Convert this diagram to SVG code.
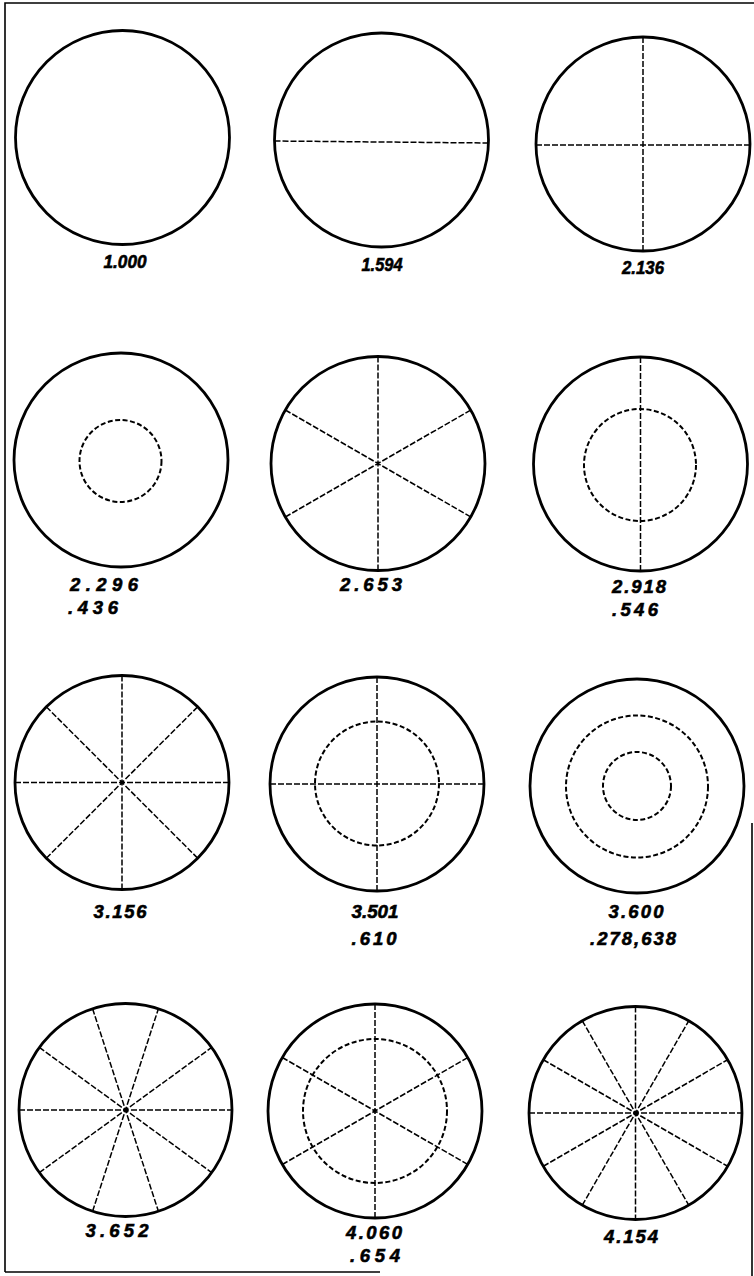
<svg xmlns="http://www.w3.org/2000/svg" width="754" height="1276" viewBox="0 0 754 1276">
<style>
.o{fill:none;stroke:#000;stroke-width:2.8}
.d{fill:none;stroke:#000;stroke-width:2;stroke-dasharray:5 2.5}
.s{fill:none;stroke:#000;stroke-width:1.5;stroke-dasharray:6 2}
.t{font-family:"Liberation Sans",Arial,sans-serif;font-weight:bold;font-style:italic;font-size:18.5px;fill:#000;stroke:#000;stroke-width:0.6;text-anchor:middle}
.f{fill:none;stroke:#000;stroke-width:1.6}
</style>
<rect width="754" height="1276" fill="#fff"/>
<g id="frame">
<path class="f" d="M5,1272 V3 H754"/>
<path class="f" d="M5,1272 H380"/>
<path class="f" d="M752,823 V1276"/>
</g>
<g id="connectors"></g>
<g id="n1"><circle class="o" cx="122.5" cy="137.5" r="107"/><text class="t" x="125" y="268" textLength="43" lengthAdjust="spacingAndGlyphs">1.000</text></g>
<g id="n2"><circle class="o" cx="381.5" cy="140" r="107"/><path class="s" d="M274.5,141 L488.5,143"/><text class="t" x="382" y="271" textLength="41" lengthAdjust="spacingAndGlyphs">1.594</text></g>
<g id="n3"><circle class="o" cx="643" cy="144" r="107"/><path class="s" d="M536,145 H750 M643,37 V251"/><text class="t" x="643" y="274" textLength="42" lengthAdjust="spacingAndGlyphs">2.136</text></g>
<g id="n4"><circle class="o" cx="121" cy="460" r="107"/><circle class="d" cx="120.5" cy="461" r="41"/><text class="t" x="104" y="591" textLength="68" lengthAdjust="spacing">2.296</text><text class="t" x="93" y="614" textLength="50" lengthAdjust="spacing">.436</text></g>
<g id="n5"><circle class="o" cx="378" cy="463.5" r="107"/><path class="s" d="M378,356.5 V570.5 M285.3,410 L470.7,517 M285.3,517 L470.7,410"/><text class="t" x="371" y="591" textLength="62" lengthAdjust="spacing">2.653</text></g>
<g id="n6"><circle class="o" cx="640.5" cy="464" r="107"/><circle class="d" cx="640" cy="465" r="56"/><path class="s" d="M640.5,357 V571"/><text class="t" x="639" y="593" textLength="54" lengthAdjust="spacing">2.918</text><text class="t" x="635" y="616" textLength="46" lengthAdjust="spacing">.546</text></g>
<g id="n7"><circle class="o" cx="122" cy="782.5" r="107"/><path class="s" d="M15,782.5 H229 M122,675.5 V889.5 M46.3,706.8 L197.7,858.2 M46.3,858.2 L197.7,706.8"/><text class="t" x="120" y="918" textLength="53" lengthAdjust="spacing">3.156</text></g>
<g id="n8"><circle class="o" cx="377" cy="784" r="107"/><circle class="d" cx="377" cy="783.5" r="62"/><path class="s" d="M270,784 H484 M377,677 V891"/><text class="t" x="375" y="918" textLength="47" lengthAdjust="spacingAndGlyphs">3.501</text><text class="t" x="374" y="945" textLength="45" lengthAdjust="spacing">.610</text></g>
<g id="n9"><circle class="o" cx="637" cy="786" r="107"/><circle class="d" cx="637" cy="786.5" r="71"/><circle class="d" cx="637" cy="786" r="34"/><text class="t" x="636" y="918" textLength="55" lengthAdjust="spacing">3.600</text><text class="t" x="633" y="945" textLength="86" lengthAdjust="spacing">.278,638</text></g>
<g id="n10"><circle class="o" cx="125.5" cy="1110" r="106.5"/><path class="s" d="M19,1110 H232 M39.3,1172.6 L211.7,1047.4 M92.6,1211.3 L158.4,1008.7 M92.6,1008.7 L158.4,1211.3 M39.3,1047.4 L211.7,1172.6"/><text class="t" x="117" y="1237" textLength="63" lengthAdjust="spacing">3.652</text></g>
<g id="n11"><circle class="o" cx="375" cy="1111" r="107"/><circle class="d" cx="375" cy="1111" r="72"/><path class="s" d="M375,1004 V1218 M282.3,1057.5 L467.7,1164.5 M282.3,1164.5 L467.7,1057.5"/><text class="t" x="374" y="1239" textLength="56" lengthAdjust="spacing">4.060</text><text class="t" x="375" y="1262" textLength="50" lengthAdjust="spacing">.654</text></g>
<g id="n12"><circle class="o" cx="635.5" cy="1113" r="106.5"/><path class="s" d="M529,1113 H742 M543.3,1166.25 L727.7,1059.75 M582.25,1205.2 L688.75,1020.8 M635.5,1006.5 V1219.5 M582.25,1020.8 L688.75,1205.2 M543.3,1059.75 L727.7,1166.25"/><text class="t" x="631" y="1243" textLength="54" lengthAdjust="spacing">4.154</text></g>
</svg>
